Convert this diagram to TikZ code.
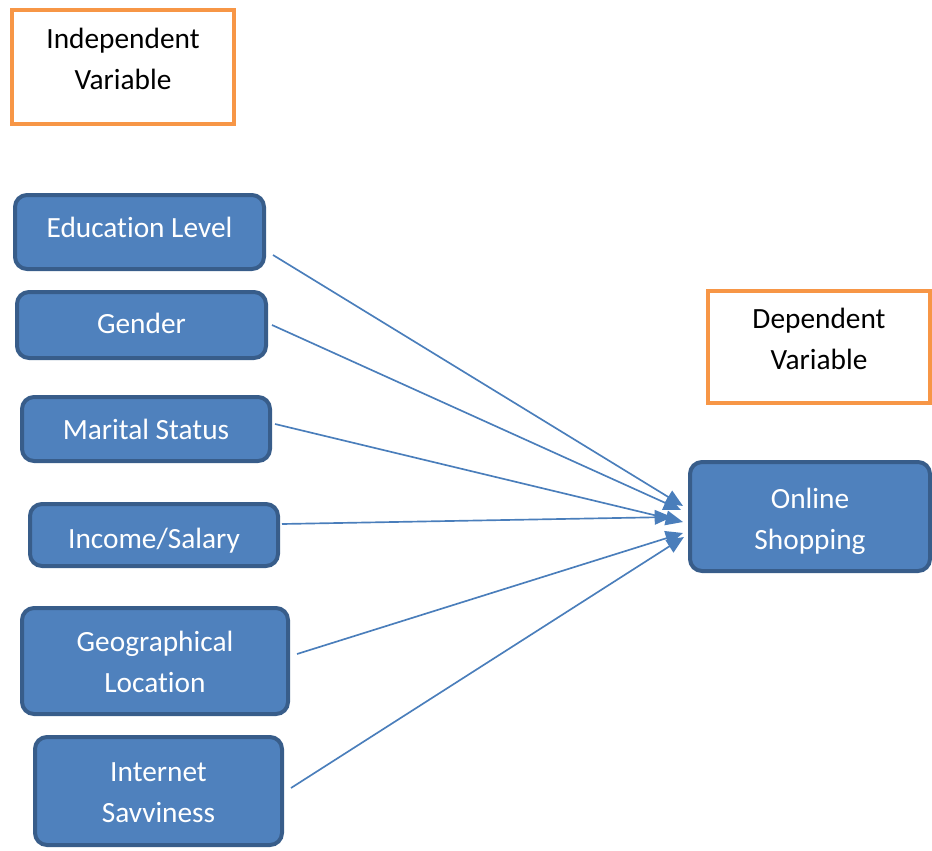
\documentclass[tikz,border=0pt]{standalone}
\usepackage{fontspec}
\setmainfont[RawFeature=-liga]{Carlito}
\usetikzlibrary{arrows.meta}
\definecolor{boxfill}{HTML}{4F81BD}
\definecolor{boxline}{HTML}{385D8A}
\definecolor{orangeline}{HTML}{F79646}
\definecolor{arrowcol}{HTML}{4A7EBB}
\newcommand{\txtshift}[2]{\raisebox{#1}[\height][\depth]{\begin{tabular}{@{}c@{}}#2\end{tabular}}}
\tikzset{
  bluebox/.style={draw=boxline, fill=boxfill, line width=3pt, rounded corners=9pt,
    text=white, align=center, font=\fontsize{22pt}{30.75pt}\selectfont, inner sep=0pt},
  orangebox/.style={draw=orangeline, fill=white, line width=3pt,
    text=black, align=center, font=\fontsize{22pt}{30.75pt}\selectfont, inner sep=0pt},
  conn/.style={draw=arrowcol, line width=1.25pt, -{Triangle[length=13pt,width=11pt]}}
}
\begin{document}
\begin{tikzpicture}[x=0.75pt,y=-0.75pt]
\useasboundingbox (0,0) rectangle (932,850);
\node[orangebox, minimum width=222*0.75pt, minimum height=114*0.75pt] (indep) at (123,67) {\txtshift{4.5pt}{Independent\\Variable}};
\node[orangebox, minimum width=222*0.75pt, minimum height=112*0.75pt] (dep) at (819,347) {\txtshift{4.5pt}{Dependent\\Variable}};
\node[bluebox, minimum width=249*0.75pt, minimum height=74*0.75pt] (edu) at (139.5,232) {\txtshift{2.25pt}{Education Level}};
\node[bluebox, minimum width=249*0.75pt, minimum height=66*0.75pt] (gen) at (141.5,325) {\txtshift{0pt}{Gender}};
\node[bluebox, minimum width=248*0.75pt, minimum height=64*0.75pt] (mar) at (146,429) {\txtshift{-1.5pt}{Marital Status}};
\node[bluebox, minimum width=248*0.75pt, minimum height=62*0.75pt] (inc) at (154,535) {\txtshift{-3.75pt}{Income/Salary}};
\node[bluebox, minimum width=266*0.75pt, minimum height=106*0.75pt] (geo) at (155,661) {\txtshift{-1.9pt}{Geographical\\Location}};
\node[bluebox, minimum width=247*0.75pt, minimum height=108*0.75pt] (int) at (158.5,791) {\txtshift{-2.25pt}{Internet\\Savviness}};
\node[bluebox, minimum width=240*0.75pt, minimum height=109*0.75pt] (onl) at (810,516.5) {\txtshift{-3.4pt}{Online\\Shopping}};
\coordinate (s1) at (273,255);
\coordinate (s2) at (272,325);
\coordinate (s3) at (275,424);
\coordinate (s4) at (282,524);
\coordinate (s5) at (297,654);
\coordinate (s6) at (291,788);
\coordinate (t1) at (683,506);
\coordinate (t2) at (681,510);
\coordinate (t3) at (683,522);
\coordinate (t4) at (672,517);
\coordinate (t5) at (683,533);
\coordinate (t6) at (684,537);
\draw[conn] (s1) -- (t1);
\draw[conn] (s2) -- (t2);
\draw[conn] (s3) -- (t3);
\draw[conn] (s4) -- (t4);
\draw[conn] (s5) -- (t5);
\draw[conn] (s6) -- (t6);
\end{tikzpicture}
\end{document}
